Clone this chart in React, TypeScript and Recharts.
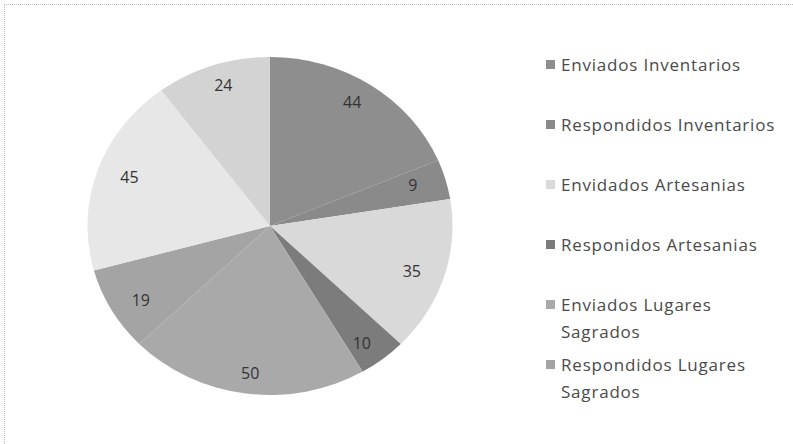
import { PieChart, Pie, Cell, Legend } from 'recharts'

const categories = [
  'Enviados Inventarios',
  'Respondidos Inventarios',
  'Envidados Artesanias',
  'Responidos Artesanias',
  'Enviados Lugares Sagrados',
  'Respondidos Lugares Sagrados',
  'Enviados (otros)',
  'Respondidos (otros)',
]
const values = [44, 9, 35, 10, 50, 19, 45, 24]
const COLORS = ['#8e8e8e', '#8a8a8a', '#d9d9d9', '#7c7c7c', '#a9a9a9', '#a4a4a4', '#e7e7e7', '#d3d3d3']
// only the first six entries are visible in the original legend
const legendCount = 6

const data = categories.map((name, i) => ({ name, value: values[i] }))

const RAD = Math.PI / 180

const renderLabel = (props: any) => {
  const { cx, cy, midAngle, outerRadius, value } = props
  const r = outerRadius * 0.88
  const x = cx + r * Math.cos(-midAngle * RAD)
  const y = cy + r * Math.sin(-midAngle * RAD)
  return (
    <text x={x} y={y} fill="#333" fontSize={16} textAnchor="middle" dominantBaseline="central"
      fontFamily="'Open Sans', sans-serif">
      {value}
    </text>
  )
}

const renderLegend = () => (
  <div style={{ fontFamily: "'Open Sans', sans-serif", fontSize: 17, letterSpacing: 0.8, color: '#4a4a4a' }}>
    {categories.slice(0, legendCount).map((name, i) => (
      <div key={name} style={{ display: 'flex', alignItems: 'flex-start', height: 60, lineHeight: '27px' }}>
        <span style={{ display: 'inline-block', width: 9, height: 9, background: COLORS[i], marginTop: 9, marginRight: 6, flex: 'none' }} />
        <span style={{ width: 226 }}>{name}</span>
      </div>
    ))}
  </div>
)

export default function App() {
  return (
    <div style={{ position: 'absolute', left: 0, top: 0, width: 793, height: 444, background: '#fff' }}>
      {/* the scanned pie is slightly wider than tall */}
      <style>{`.recharts-pie { transform: scaleX(1.08); transform-origin: 270px 226px; }`}</style>
      <div style={{ position: 'absolute', left: 4, top: 4, right: 0, bottom: 0, borderTop: '1px dotted #bbb', borderLeft: '1px dotted #bbb' }} />
      <PieChart width={793} height={444} margin={{ top: 0, right: 0, bottom: 0, left: 0 }}>
        <Pie
          data={data}
          dataKey="value"
          nameKey="name"
          cx={270}
          cy={226}
          outerRadius={169}
          startAngle={90}
          endAngle={-270}
          stroke="none"
          labelLine={false}
          label={renderLabel}
          isAnimationActive={false}
        >
          {data.map((entry, index) => (
            <Cell key={`cell-${index}`} fill={COLORS[index % COLORS.length]} />
          ))}
        </Pie>
        <Legend content={renderLegend} wrapperStyle={{ left: 546, top: 51, width: 245 }} />
      </PieChart>
    </div>
  )
}
